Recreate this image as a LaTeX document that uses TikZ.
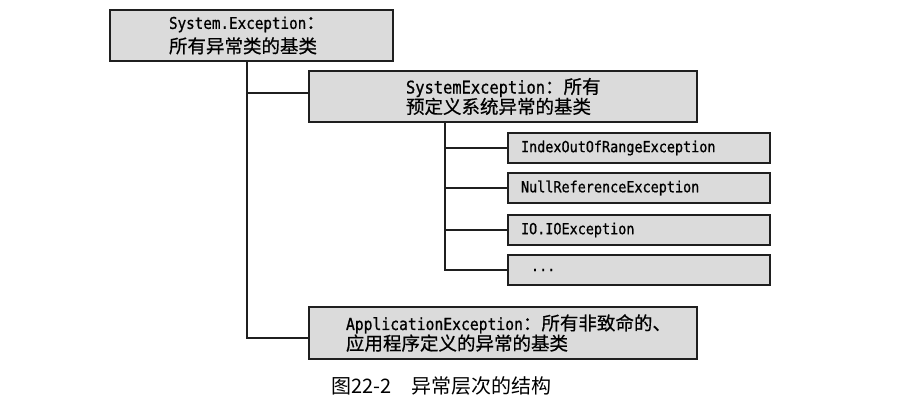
\documentclass[tikz,border=0pt]{standalone}
\usepackage{fontspec}
\setmonofont[FakeStretch=0.88,FakeBold=0.8]{DejaVu Sans Mono}
\newfontfamily\cjk[FakeBold=0.6]{Noto Sans CJK SC}
\newfontfamily\cjkcap{Noto Sans CJK SC}
\newcommand\mn[2][15.3]{{\ttfamily\fontsize{#1}{20}\selectfont #2}}
\newcommand\cj[1]{{\cjk\fontsize{18.5}{20}\selectfont #1}}
\begin{document}
\begin{tikzpicture}[x=1pt,y=-1pt,
  box/.style={draw=black!88, line width=1.8pt, fill=black!14, rectangle,
    anchor=center, inner ysep=0pt, align=left},
  leaf/.style={box, minimum height=30pt, text width=236pt, inner xsep=13pt,
    font=\fontsize{14}{20}\selectfont},
  conn/.style={line width=1.6pt, draw=black!88}]
\useasboundingbox (0,0) rectangle (913,406);
\node[box, text width=165pt, inner xsep=59pt, minimum height=51pt,
  font=\fontsize{14}{24}\selectfont] (b1) at (251.5,35.5)
  {\mn[16.2]{System.Exception}\cj{：}\\\cj{所有异常类的基类}};
\node[box, text width=194pt, inner xsep=97pt, minimum height=51pt,
  font=\fontsize{14}{20}\selectfont] (b2) at (503,96.5)
  {\mn[17.5]{SystemException}\cj{：所有}\\\cj{预定义系统异常的基类}};
\node[leaf] (sa) at (639,148) {\mn{IndexOutOfRangeException}};
\node[leaf] (sb) at (639,188) {\mn{NullReferenceException}};
\node[leaf] (sc) at (639,230) {\mn{IO.IOException}};
\node[leaf] (sd) at (639,270) {\mn{\hspace{10pt}...}};
\node[box, text width=314pt, inner xsep=37pt, minimum height=52pt,
  font=\fontsize{14}{19}\selectfont] (b3) at (503,333)
  {\mn[16.7]{ApplicationException}\cj{：所有非致命的、}\\\cj{应用程序定义的异常的基类}};
\coordinate (t1) at (247,0);
\coordinate (t2) at (445,0);
\coordinate (c2) at ([yshift=3.5pt]b2.west);
\coordinate (c3) at ([yshift=-5pt]b3.west);
\draw[conn] (t1 |- b1.south) |- (c3);
\draw[conn] (t1 |- c2) -- (c2);
\draw[conn] (t2 |- b2.south) |- (sd.west);
\draw[conn] (t2 |- sa.west) -- (sa.west);
\draw[conn] (t2 |- sb.west) -- (sb.west);
\draw[conn] (t2 |- sc.west) -- (sc.west);
\node[anchor=west, font=\cjkcap\fontsize{20}{24}\selectfont] (cap) at (328,386)
  {图22-2\hspace{1em}异常层次的结构};
\end{tikzpicture}
\end{document}
